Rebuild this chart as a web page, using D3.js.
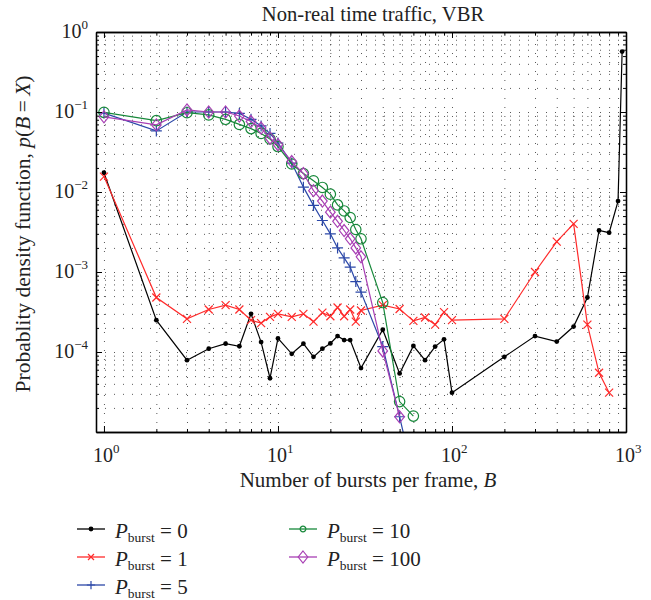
<!DOCTYPE html>
<html>
<head>
<meta charset="utf-8">
<script src="https://cdn.jsdelivr.net/npm/d3@7"></script>
<style>
  body { margin: 0; background: #fff; }
  svg { display: block; }
  text { font-family: "Liberation Serif", "DejaVu Serif", serif; fill: #222; }
</style>
</head>
<body>
<div id="chart"></div>
<script>
// x positions of the bursts count B
const xs0 = [1, 2, 3, 4, 5, 6, 7, 8, 9, 10, 12, 14, 16, 18, 20, 22, 24, 26, 30, 40, 50, 60, 70, 80, 90, 100, 200, 300, 400, 500, 600, 700, 800, 900, 950];
const p0 = [0.0174, 2.5e-4, 7.9e-5, 1.1e-4, 1.27e-4, 1.18e-4, 3.0e-4, 1.33e-4, 4.7e-5, 1.48e-4, 9.5e-5, 1.27e-4, 8.7e-5, 1.1e-4, 1.28e-4, 1.58e-4, 1.41e-4, 1.41e-4, 6.3e-5, 1.9e-4, 5.4e-5, 1.19e-4, 7.9e-5, 1.17e-4, 1.44e-4, 3.1e-5, 8.7e-5, 1.58e-4, 1.35e-4, 2.08e-4, 4.8e-4, 3.3e-3, 3.1e-3, 7.7e-3, 0.57];

const xs1 = [1, 2, 3, 4, 5, 6, 7, 8, 9, 10, 12, 14, 16, 18, 20, 22, 24, 26, 28, 30, 40, 50, 60, 70, 80, 90, 100, 200, 300, 400, 500, 600, 700, 800];
const p1 = [0.0156, 4.8e-4, 2.6e-4, 3.4e-4, 3.85e-4, 3.4e-4, 2.5e-4, 2.3e-4, 2.75e-4, 3.0e-4, 2.75e-4, 3.0e-4, 2.4e-4, 3.1e-4, 2.8e-4, 3.6e-4, 2.8e-4, 3.4e-4, 2.4e-4, 3.3e-4, 3.85e-4, 3.45e-4, 2.45e-4, 2.7e-4, 2.2e-4, 3.15e-4, 2.5e-4, 2.6e-4, 1.0e-3, 2.4e-3, 4.0e-3, 2.2e-4, 5.5e-5, 3.1e-5];

const xs5 = [1, 2, 3, 4, 5, 6, 7, 8, 9, 10, 12, 14, 16, 18, 20, 22, 24, 26, 28, 30, 40, 50, 60];
const p5 = [0.097, 0.058, 0.1, 0.1, 0.1, 0.096, 0.081, 0.067, 0.054, 0.041, 0.023, 0.0115, 0.0068, 0.0044, 0.003, 0.002, 0.0015, 0.00115, 7.6e-4, 5.6e-4, 1.17e-4, 1.55e-5, 2.8e-6];

const xs10 = [1, 2, 3, 4, 5, 6, 7, 8, 9, 10, 12, 14, 16, 18, 20, 22, 24, 26, 28, 30, 40, 50, 60];
const p10 = [0.099, 0.078, 0.098, 0.092, 0.081, 0.07, 0.062, 0.054, 0.046, 0.037, 0.0224, 0.017, 0.0138, 0.0114, 0.0094, 0.0069, 0.0058, 0.0048, 0.0034, 0.0026, 4.15e-4, 2.4e-5, 1.58e-5];

const xs100 = [1, 2, 3, 4, 5, 6, 7, 8, 9, 10, 12, 14, 16, 18, 20, 22, 24, 26, 28, 30, 40, 50];
const p100 = [0.087, 0.069, 0.106, 0.1, 0.1, 0.089, 0.076, 0.063, 0.047, 0.039, 0.024, 0.017, 0.0104, 0.0077, 0.0056, 0.0043, 0.0033, 0.0026, 0.002, 0.00155, 1.03e-4, 1.55e-5];

const seriesNames = ['0', '1', '5', '10', '100'];
const seriesColors = ['#000000', '#ff2a2a', '#2c48a8', '#17883a', '#a83fb4'];
const seriesMarkers = ['dot', 'x', 'plus', 'circle', 'diamond'];

const xMajor = [1, 10, 100, 1000];
const xMajorExp = ['0', '1', '2', '3'];
const yMajor = [1, 0.1, 0.01, 0.001, 0.0001];
const yMajorExp = ['0', '\u22121', '\u22122', '\u22123', '\u22124'];

const titleText = 'Non-real time traffic, VBR';
const xLabel = 'Number of bursts per frame, ';
const yLabel = 'Probablity density function, ';

const series = [
  {xs: xs0, ps: p0}, {xs: xs1, ps: p1}, {xs: xs5, ps: p5},
  {xs: xs10, ps: p10}, {xs: xs100, ps: p100}
].map((s, i) => ({
  name: seriesNames[i],
  color: seriesColors[i],
  marker: seriesMarkers[i],
  values: s.xs.map((x, j) => [x, s.ps[j]])
}));

const W = 651, H = 600;
const mLeft = 96, mRight = 626, mTop = 32, mBottom = 432;

const svg = d3.select('#chart').append('svg')
  .attr('width', W).attr('height', H);

const x = d3.scaleLog().domain([0.9, 1000]).range([mLeft, mRight]);
const y = d3.scaleLog().domain([1e-5, 1]).range([mBottom, mTop]);

// minor + major tick positions in log space
const minorTicks = (lo, hi) => {
  const out = [];
  for (let e = Math.floor(Math.log10(lo)); e <= Math.ceil(Math.log10(hi)); e++) {
    for (let k = 1; k <= 9; k++) {
      const v = k * Math.pow(10, e);
      if (v >= lo * 0.9999 && v <= hi * 1.0001) out.push(v);
    }
  }
  return out;
};
const isMajor = (list, v) => list.some(m => Math.abs(m - v) / v < 1e-6);
const xAll = minorTicks(1, 1000);
const yAll = minorTicks(1e-5, 1);
const xMinor = xAll.filter(v => !isMajor(xMajor, v));
const yMinor = yAll.filter(v => !isMajor(yMajor, v) && !isMajor([1e-5], v));

// grid
const gridStyle = g => {
  g.select('.domain').remove();
  g.selectAll('.tick line')
    .attr('stroke', '#111')
    .attr('stroke-opacity', 0.7)
    .attr('stroke-dasharray', '1,8')
    .attr('stroke-width', 1);
};
svg.append('g')
  .attr('transform', `translate(0,${mBottom})`)
  .call(d3.axisBottom(x).tickValues(xAll.filter(v => v < 999)).tickSize(-(mBottom - mTop)).tickFormat(''))
  .call(gridStyle);
svg.append('g')
  .attr('transform', `translate(${mLeft},0)`)
  .call(d3.axisLeft(y).tickValues(yAll.filter(v => v < 0.999 && v > 1.001e-5)).tickSize(-(mRight - mLeft)).tickFormat(''))
  .call(gridStyle);

// clip for data
svg.append('defs').append('clipPath').attr('id', 'clip')
  .append('rect').attr('x', mLeft).attr('y', mTop)
  .attr('width', mRight - mLeft).attr('height', mBottom - mTop);

const line = d3.line().x(d => x(d[0])).y(d => y(d[1]));

const markerPath = {
  x: s => `M${-4 * s},${-4 * s}L${4 * s},${4 * s}M${-4 * s},${4 * s}L${4 * s},${-4 * s}`,
  plus: s => `M${-5.5 * s},0H${5.5 * s}M0,${-5.5 * s}V${5.5 * s}`,
  diamond: s => `M0,${-6 * s}L${4.8 * s},0L0,${6 * s}L${-4.8 * s},0Z`
};

const drawMarker = (sel, m, color, s = 1) => {
  if (m === 'dot') {
    sel.append('circle').attr('r', 2.4).attr('fill', color);
  } else if (m === 'circle') {
    sel.append('circle').attr('r', 5.2 * s).attr('fill', 'none')
      .attr('stroke', color).attr('stroke-width', 1.2);
  } else {
    sel.append('path').attr('d', markerPath[m](s)).attr('fill', 'none')
      .attr('stroke', color).attr('stroke-width', 1.2);
  }
};

const plot = svg.append('g').attr('clip-path', 'url(#clip)');

series.forEach(s => {
  const g = plot.append('g');
  g.append('path')
    .attr('d', line(s.values))
    .attr('fill', 'none')
    .attr('stroke', s.color)
    .attr('stroke-width', 1.2);
  g.selectAll('g.mk')
    .data(s.values)
    .enter()
    .append('g')
    .attr('class', 'mk')
    .attr('transform', d => `translate(${x(d[0])},${y(d[1])})`)
    .each(function() { drawMarker(d3.select(this), s.marker, s.color); });
});

// axes: inward major + minor ticks on all four sides
const tickStyle = g => {
  g.select('.domain').attr('stroke', '#000').attr('stroke-width', 1.3);
  g.selectAll('.tick line').attr('stroke', '#000').attr('stroke-width', 1);
};
const addAxis = (axisFn, scale, vals, size, tr) => {
  svg.append('g')
    .attr('transform', tr)
    .call(axisFn(scale).tickValues(vals).tickSizeInner(size).tickSizeOuter(0).tickFormat(''))
    .call(tickStyle);
};
addAxis(d3.axisBottom, x, xMajor, -6, `translate(0,${mBottom})`);
addAxis(d3.axisBottom, x, xMinor, -3, `translate(0,${mBottom})`);
addAxis(d3.axisTop, x, xMajor, -6, `translate(0,${mTop})`);
addAxis(d3.axisTop, x, xMinor, -3, `translate(0,${mTop})`);
addAxis(d3.axisLeft, y, yMajor, -6, `translate(${mLeft},0)`);
addAxis(d3.axisLeft, y, yMinor, -3, `translate(${mLeft},0)`);
addAxis(d3.axisRight, y, yMajor, -6, `translate(${mRight},0)`);
addAxis(d3.axisRight, y, yMinor, -3, `translate(${mRight},0)`);

// tick labels with superscripts
xMajor.forEach((v, i) => {
  const t = svg.append('text')
    .attr('x', x(v) - 11)
    .attr('y', 462)
    .attr('font-size', 20);
  t.append('tspan').text('10');
  t.append('tspan').attr('font-size', 13).attr('dy', -9).text(xMajorExp[i]);
});
yMajor.forEach((v, i) => {
  const t = svg.append('text')
    .attr('x', 88)
    .attr('y', y(v) + 6)
    .attr('text-anchor', 'end')
    .attr('font-size', 20);
  t.append('tspan').text('10');
  t.append('tspan').attr('font-size', 13).attr('dy', -9).text(yMajorExp[i]);
});

// title
svg.append('text')
  .attr('x', 373).attr('y', 21)
  .attr('text-anchor', 'middle')
  .attr('font-size', 20.6)
  .text(titleText);

// x label
const xl = svg.append('text')
  .attr('x', 368).attr('y', 487)
  .attr('text-anchor', 'middle')
  .attr('font-size', 21);
xl.append('tspan').text(xLabel);
xl.append('tspan').attr('font-style', 'italic').text('B');

// y label
const yl = svg.append('text')
  .attr('transform', `translate(30,234) rotate(-90)`)
  .attr('text-anchor', 'middle')
  .attr('font-size', 21.5);
yl.append('tspan').text(yLabel);
yl.append('tspan').attr('font-style', 'italic').text('p');
yl.append('tspan').text('(');
yl.append('tspan').attr('font-style', 'italic').text('B');
yl.append('tspan').text('\u2009=\u2009');
yl.append('tspan').attr('font-style', 'italic').text('X');
yl.append('tspan').text(')');

// legend
const legendPos = [[77, 529], [77, 557], [77, 585], [289, 529], [289, 557]];
series.forEach((s, i) => {
  const [lx, ly] = legendPos[i];
  const g = svg.append('g');
  g.append('line')
    .attr('x1', lx).attr('x2', lx + 28)
    .attr('y1', ly).attr('y2', ly)
    .attr('stroke', s.color).attr('stroke-width', 1.3);
  const mk = g.append('g').attr('transform', `translate(${lx + 14},${ly})`);
  drawMarker(mk, s.marker, s.color, s.marker === 'circle' ? 0.55 : (s.marker === 'diamond' ? 1 : 0.75));
  const t = g.append('text')
    .attr('x', lx + 38).attr('y', ly + 9)
    .attr('font-size', 21);
  t.append('tspan').attr('font-style', 'italic').text('P');
  t.append('tspan').attr('font-size', 13.5).attr('dy', 4).text('burst');
  t.append('tspan').attr('dy', -4).text(' = ' + s.name);
});
</script>
</body>
</html>
